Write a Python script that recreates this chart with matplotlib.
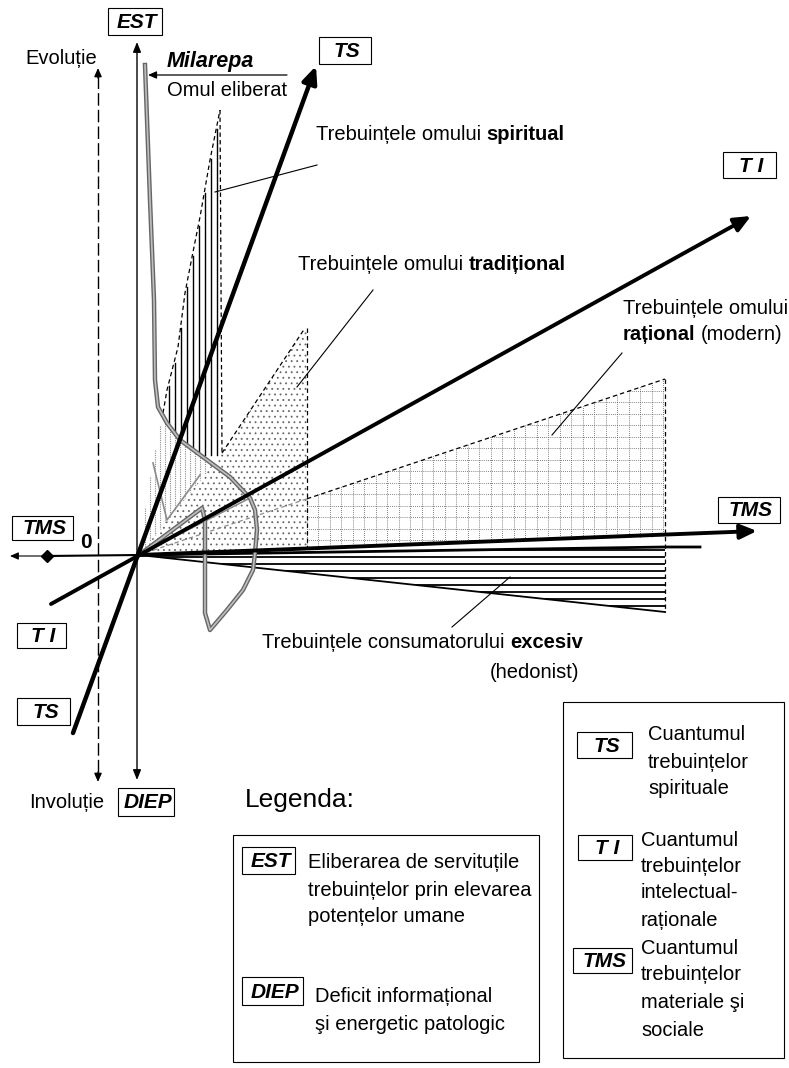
import numpy as np
import matplotlib.pyplot as plt
from matplotlib.patches import Polygon, Rectangle

plt.rcParams['font.family'] = ['Liberation Sans', 'DejaVu Sans']
plt.rcParams['hatch.linewidth'] = 0.6

W, H = 789, 1068

# geometry, in pixels (y grows downwards)
origin = (139, 555)
ts_axis = [(73, 733), (316, 66)]
ti_axis = [(51, 604), (751, 216)]
tms_axis = [(139, 555), (757, 531)]
tms_back = [(47, 556), (139, 555)]
tms_back_tip = (10, 556)
est_axis = [(137, 42), (137, 780)]
evol_axis = [(98, 68), (98, 782)]
milarepa_arrow = [(287, 75), (148, 75)]

# spiritual wedge (vertical hatch)
spirit_edge_x = [139, 146, 152, 158, 163, 167, 178, 185, 192, 200, 210, 220]
spirit_edge_y = [555, 500, 465, 435, 413, 390, 347, 293, 257, 217, 160, 110]
spirit_hatch_x = np.arange(169, 220, 6)
spirit_gray_x = np.arange(145, 221, 5)

# the grey path of the "liberated man"
gray_x = [145, 150, 154, 155, 158, 167, 180, 207, 230, 250, 255, 257, 255, 253,
          243, 227, 210, 205, 205, 205, 202, 139]
gray_y = [65, 200, 300, 380, 407, 423, 440, 460, 477, 498, 510, 530, 553, 570,
          590, 610, 630, 613, 560, 520, 508, 555]
gray_fan = [[(139, 555), (180, 440)], [(139, 555), (250, 498)],
            [(153, 463), (167, 520), (200, 475)]]

# traditional (dots), rational (grid), hedonist (horizontal lines)
trad_poly = [(139, 555), (222, 453), (305, 328), (307, 328), (307, 548)]
rat_poly = [(307, 498), (665, 379), (665, 537), (307, 548)]
rat_top = [(139, 555), (665, 379)]
rat_step = 11.5
hed_poly = [(139, 555), (665, 547), (665, 612)]
hed_top = [(139, 555), (665, 547), (700, 547)]
hed_bottom = [(139, 555), (665, 612)]
hed_lines_y = np.arange(550, 612, 7)
dashed_v = [[(220, 110), (222, 453)], [(222, 453), (305, 328)],
            [(307, 328), (307, 548)], [(665, 379), (665, 612)]]

leaders = [[(317, 165), (215, 192)], [(373, 290), (297, 387)],
           [(622, 353), (552, 435)], [(510, 577), (452, 627)]]

# boxed labels: text, x0, y0, x1, y1
boxes = [("EST", 108, 8, 162, 35), ("TS", 319, 37, 371, 64),
         ("T I", 723, 152, 776, 178), ("TMS", 718, 497, 780, 523),
         ("TMS", 12, 516, 73, 540), ("T I", 17, 623, 66, 648),
         ("TS", 17, 698, 70, 725), ("DIEP", 118, 788, 174, 816),
         ("EST", 242, 847, 295, 874), ("DIEP", 242, 977, 303, 1005),
         ("TS", 577, 732, 632, 758), ("T I", 578, 835, 632, 860),
         ("TMS", 573, 948, 632, 973)]

legend_frames = [(233, 835, 539, 1062), (563, 702, 784, 1058)]

# plain texts: text, x, y
plain = [("Evoluție", 25, 58), ("Involuție", 29, 802), ("Omul eliberat", 167, 90),
         ("Trebuințele omului", 623, 308), ("(hedonist)", 490, 673),
         ("Eliberarea de servituțile", 308, 863),
         ("trebuințelor prin elevarea", 308, 890),
         ("potențelor umane", 308, 917),
         ("Deficit informațional", 315, 997),
         ("şi energetic patologic", 315, 1025),
         ("Cuantumul", 648, 735), ("trebuințelor", 648, 762), ("spirituale", 648, 789),
         ("Cuantumul", 641, 840), ("trebuințelor", 641, 866),
         ("intelectual-", 641, 893), ("raționale", 641, 920),
         ("Cuantumul", 641, 948), ("trebuințelor", 641, 975),
         ("materiale şi", 641, 1002), ("sociale", 641, 1030)]

# texts with a bold part: parts, x, y
mixed_texts = [([("Trebuințele omului", "normal"), ("spiritual", "bold")], 316, 135),
               ([("Trebuințele omului", "normal"), ("tradițional", "bold")], 298, 264),
               ([("rațional", "bold"), ("(modern)", "normal")], 623, 335),
               ([("Trebuințele consumatorului", "normal"), ("excesiv", "bold")], 262, 643)]

FS = 14.5


def xy(pts):
    a = np.array(pts, dtype=float)
    return a[:, 0], a[:, 1]


def arrow(ax, start, tip, lw, scale, color="black"):
    ax.annotate("", xy=tip, xytext=start,
                arrowprops=dict(arrowstyle="-|>,head_length=0.5,head_width=0.22",
                                lw=lw, color=color, shrinkA=0, shrinkB=0,
                                mutation_scale=scale))


fig = plt.figure(figsize=(W / 100, H / 100), dpi=100)
ax = fig.add_axes([0, 0, 1, 1])
ax.set_xlim(0, W)
ax.set_ylim(H, 0)
ax.axis("off")

dash = (0, (3.5, 2.5))

# traditional region: dots
p = Polygon(trad_poly, closed=True, fc="none", ec="0.4", lw=0, hatch="...")
ax.add_patch(p)

# rational region: dotted grid
rp = Polygon(rat_poly, closed=True, fc="none", ec="none", lw=0)
ax.add_patch(rp)
for gx in np.arange(307, 666, rat_step):
    ln, = ax.plot([gx, gx], [370, 560], color="0.35", lw=0.6, ls=(0, (1, 1.5)))
    ln.set_clip_path(rp)
for gy in np.arange(379, 560, rat_step):
    ln, = ax.plot([300, 670], [gy, gy], color="0.35", lw=0.6, ls=(0, (1, 1.5)))
    ln.set_clip_path(rp)

# hedonist region: horizontal lines
hp = Polygon(hed_poly, closed=True, fc="none", ec="none", lw=0)
ax.add_patch(hp)
for hy in hed_lines_y:
    ln, = ax.plot([139, 665], [hy, hy], color="black", lw=1.3)
    ln.set_clip_path(hp)
ax.plot(*xy(hed_top), color="black", lw=2.0)
ax.plot(*xy(hed_bottom), color="black", lw=1.3)

# spiritual region: black lines above the grey path, grey ones below
gup_x = gray_x[3:10]
gup_y = gray_y[3:10]
for sx in spirit_hatch_x:
    top = np.interp(sx, spirit_edge_x, spirit_edge_y) + 4
    bot = min(np.interp(sx, gup_x, gup_y), 455)
    ax.plot([sx, sx], [top, bot], color="black", lw=1.0)
for sx in spirit_gray_x:
    top = max(np.interp(sx, spirit_edge_x, spirit_edge_y), np.interp(sx, gup_x, gup_y))
    bot = np.interp(sx, [139, 222], [555, 453])
    if bot > top:
        ax.plot([sx, sx], [top, bot], color="0.55", lw=0.8, ls=(0, (1, 1)))

# dashed outlines
ax.plot(spirit_edge_x[4:], spirit_edge_y[4:], color="black", lw=0.9, ls=dash)
for seg in dashed_v:
    ax.plot(*xy(seg), color="black", lw=0.9, ls=dash)
rx, ry = xy(rat_top)
ax.plot([rx[0], 307], [ry[0], np.interp(307, rx, ry)], color="0.55", lw=0.9, ls=dash)
ax.plot([307, rx[1]], [np.interp(307, rx, ry), ry[1]], color="black", lw=0.9, ls=dash)

# grey path
for seg in gray_fan:
    ax.plot(*xy(seg), color="0.55", lw=1.2)
ax.plot(gray_x, gray_y, color="0.4", lw=3.2, solid_joinstyle="round")
ax.plot(gray_x, gray_y, color="0.75", lw=1.2, solid_joinstyle="round")

# axes
arrow(ax, ts_axis[0], ts_axis[1], 3.2, 20)
arrow(ax, ti_axis[0], ti_axis[1], 2.8, 20)
arrow(ax, tms_axis[0], tms_axis[1], 2.8, 20)
ax.plot(*xy(tms_back), color="black", lw=1.5)
arrow(ax, tms_back[0], tms_back_tip, 0.8, 10)
ax.plot([tms_back[0][0]], [tms_back[0][1]], marker="D", ms=6, color="black")
ax.annotate("", xy=est_axis[0], xytext=est_axis[1],
            arrowprops=dict(arrowstyle="<|-|>,head_length=0.5,head_width=0.2",
                            lw=1.0, color="black", shrinkA=0, shrinkB=0,
                            mutation_scale=12))
ex, ey = xy(evol_axis)
ax.plot([ex[0], ex[1]], [ey[0] + 8, ey[1] - 8], color="black", lw=1.0, ls=(0, (9, 3)))
arrow(ax, (ex[0], ey[0] + 10), (ex[0], ey[0]), 1.0, 10)
arrow(ax, (ex[1], ey[1] - 10), (ex[1], ey[1]), 1.0, 10)
arrow(ax, milarepa_arrow[0], milarepa_arrow[1], 0.9, 10)

for seg in leaders:
    ax.plot(*xy(seg), color="black", lw=0.8)

# boxes
for label, x0, y0, x1, y1 in boxes:
    ax.add_patch(Rectangle((x0, y0), x1 - x0, y1 - y0, fc="white", ec="black", lw=0.8, zorder=5))
    ax.text((x0 + x1) / 2 + 2, (y0 + y1) / 2 + 1, label, ha="center", va="center",
            fontsize=15, weight="bold", style="italic", zorder=6)
for x0, y0, x1, y1 in legend_frames:
    ax.add_patch(Rectangle((x0, y0), x1 - x0, y1 - y0, fc="none", ec="black", lw=0.8))

# texts
for s, x, y in plain:
    ax.text(x, y, s, ha="left", va="center", fontsize=FS)
for parts, x, y in mixed_texts:
    t = ax.text(x, y, parts[0][0], ha="left", va="center", fontsize=FS, weight=parts[0][1])
    for s, w in parts[1:]:
        t = ax.annotate(s, xy=(1, 0), xycoords=t, xytext=(4, 0), textcoords="offset points",
                        ha="left", va="bottom", fontsize=FS, weight=w)
ax.text(167, 62, "Milarepa", ha="left", va="center", fontsize=15.5, weight="bold", style="italic")
ax.text(86, 542, "0", ha="center", va="center", fontsize=15, weight="bold")
ax.text(245, 800, "Legenda:", ha="left", va="center", fontsize=19)

fig.savefig("out.png", dpi=100)
